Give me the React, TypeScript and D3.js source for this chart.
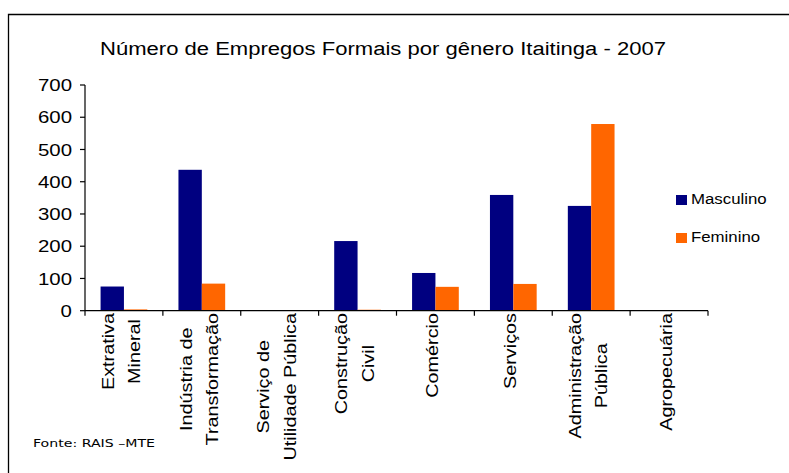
import React, { useEffect, useRef } from "react";
import * as d3 from "d3";

const categories: string[][] = [
  ["Extrativa", "Mineral"],
  ["Indústria de", "Transformação"],
  ["Serviço de", "Utilidade Pública"],
  ["Construção", "Civil"],
  ["Comércio"],
  ["Serviços"],
  ["Administração", "Pública"],
  ["Agropecuária"],
];
const masculino = [75, 437, 0, 216, 117, 359, 325, 0];
const feminino = [4, 84, 0, 3, 74, 83, 579, 0];
const yTicks = [0, 100, 200, 300, 400, 500, 600, 700];
const seriesNames = ["Masculino", "Feminino"];
const seriesColors = ["#000080", "#FF6600"];
const title = "Número de Empregos Formais por gênero Itaitinga - 2007";
const source = "Fonte: RAIS –MTE";

const W = 789;
const H = 473;
const FONT = "'Liberation Sans', Arial, sans-serif";

export default function App() {
  const ref = useRef<SVGSVGElement | null>(null);

  useEffect(() => {
    const svg = d3.select(ref.current);
    svg.selectAll("*").remove();

    const x0 = 85, x1 = 708, yTop = 85, yBot = 310.7;
    const x = d3.scaleBand<number>().domain(d3.range(categories.length)).range([x0, x1]).padding(0);
    const xs = d3.scaleBand<number>().domain([0, 1]).range([0, x.bandwidth()]).paddingInner(0).paddingOuter(0.667);
    const y = d3.scaleLinear().domain([0, 700]).range([yBot, yTop]);

    // frame
    svg.append("path").attr("d", `M8.5,${H} L8.5,14.5 L${W},14.5`).attr("fill", "none").attr("stroke", "#000").attr("stroke-width", 1.3);

    // title
    svg.append("text").attr("x", 100).attr("y", 55).attr("font-family", FONT).attr("font-size", 18)
      .attr("textLength", 566).attr("lengthAdjust", "spacingAndGlyphs").attr("fill", "#000").text(title);

    // bars
    const series = [masculino, feminino];
    series.forEach((vals, si) => {
      svg.append("g").selectAll("rect").data(vals).join("rect")
        .attr("x", (_d, i) => (x(i) as number) + (xs(si) as number))
        .attr("width", xs.bandwidth())
        .attr("y", (d) => y(d))
        .attr("height", (d) => yBot - y(d))
        .attr("fill", seriesColors[si]);
    });

    // y axis
    const ya = svg.append("g");
    ya.append("line").attr("x1", x0).attr("x2", x0).attr("y1", yTop).attr("y2", yBot).attr("stroke", "#000").attr("stroke-width", 1.2);
    yTicks.forEach((t) => {
      ya.append("line").attr("x1", x0 - 5).attr("x2", x0).attr("y1", y(t)).attr("y2", y(t)).attr("stroke", "#000").attr("stroke-width", 1.2);
      const tx = ya.append("text").attr("x", 72).attr("y", y(t)).attr("dy", "0.36em").attr("text-anchor", "end")
        .attr("font-family", FONT).attr("font-size", 17).attr("fill", "#000").text(String(t));
      const len = (tx.node() as SVGTextElement).getComputedTextLength();
      tx.attr("textLength", len * 1.2).attr("lengthAdjust", "spacingAndGlyphs");
    });

    // x axis
    const xa = svg.append("g");
    xa.append("line").attr("x1", x0).attr("x2", x1).attr("y1", yBot).attr("y2", yBot).attr("stroke", "#000").attr("stroke-width", 1.2);
    d3.range(categories.length + 1).forEach((k) => {
      const xx = x0 + k * x.bandwidth();
      xa.append("line").attr("x1", xx).attr("x2", xx).attr("y1", yBot).attr("y2", yBot + 5).attr("stroke", "#000").attr("stroke-width", 1.2);
    });

    // x labels
    const stretch = 1.2;
    categories.forEach((lines, i) => {
      const cx = (x(i) as number) + x.bandwidth() / 2 - 3;
      const g = xa.append("g");
      const texts = lines.map((ln) =>
        g.append("text").attr("font-family", FONT).attr("font-size", 16.5).attr("fill", "#000")
          .attr("text-anchor", "middle").attr("dominant-baseline", "central").text(ln)
      );
      const lens = texts.map((t) => (t.node() as SVGTextElement).getComputedTextLength() * stretch);
      const maxLen = d3.max(lens) as number;
      const n = lines.length;
      const gap = 26.5;
      texts.forEach((t, j) => {
        const lx = cx + (j - (n - 1) / 2) * gap;
        const ly = 313 + maxLen / 2;
        t.attr("textLength", lens[j]).attr("lengthAdjust", "spacingAndGlyphs")
          .attr("transform", `translate(${lx},${ly}) rotate(-90)`);
      });
    });

    // legend
    const lg = svg.append("g");
    seriesNames.forEach((name, i) => {
      const ly = 195 + i * 38;
      lg.append("rect").attr("x", 676).attr("y", ly).attr("width", 11).attr("height", 10).attr("fill", seriesColors[i]);
      const t = lg.append("text").attr("x", 691).attr("y", ly + 9).attr("font-family", FONT).attr("font-size", 14)
        .attr("fill", "#000").text(name);
      const len = (t.node() as SVGTextElement).getComputedTextLength();
      t.attr("textLength", len * 1.2).attr("lengthAdjust", "spacingAndGlyphs");
    });

    // source
    svg.append("text").attr("x", 33).attr("y", 447).attr("font-family", "'DejaVu Sans', sans-serif").attr("font-size", 11)
      .attr("textLength", 122).attr("lengthAdjust", "spacingAndGlyphs").attr("fill", "#000").text(source);
  }, []);

  return (
    <svg ref={ref} width={W} height={H} style={{ position: "absolute", left: 0, top: 0, background: "#fff" }} />
  );
}
